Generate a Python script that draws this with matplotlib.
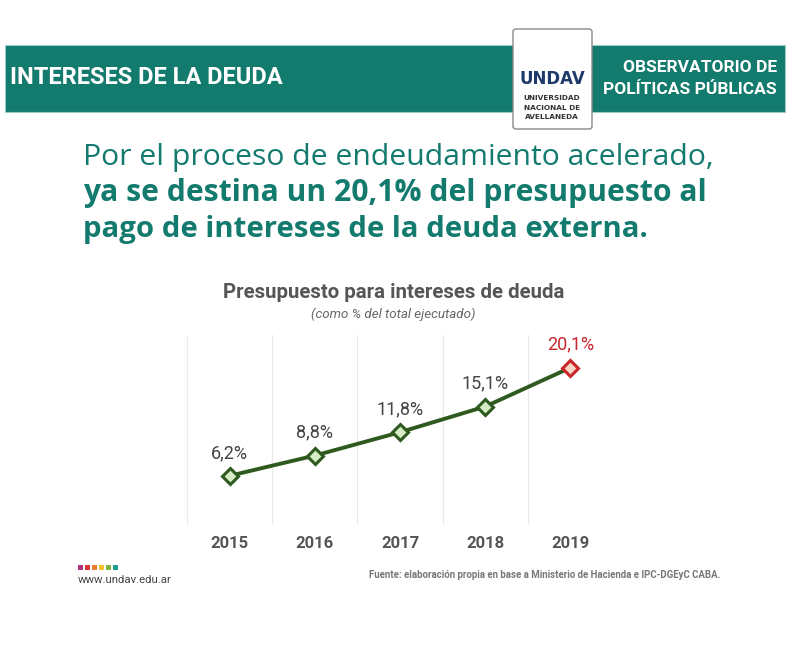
import matplotlib.pyplot as plt
from matplotlib.patches import Rectangle, FancyBboxPatch

# data
years = ['2015', '2016', '2017', '2018', '2019']
shares = [6.2, 8.8, 11.8, 15.1, 20.1]
labels = ['6,2%', '8,8%', '11,8%', '15,1%', '20,1%']

TEAL = '#137a6e'
GREEN = '#2f5a1f'
RED = '#c9262c'
GREY = '#555555'
W, H = 790, 645

fig = plt.figure(figsize=(7.9, 6.45), dpi=100)
fig.patch.set_facecolor('white')

def fx(x):
    return x / W

def fy(y):
    return 1 - y / H

# banner
fig.patches.append(Rectangle((fx(5), fy(112)), fx(780), 67 / H, transform=fig.transFigure,
                             facecolor=TEAL, edgecolor='#9fc9c3', lw=0.8, zorder=0))
fig.text(fx(10), fy(78), 'INTERESES DE LA DEUDA', family='Roboto', weight='bold',
         fontsize=17, color='white', va='center', ha='left')
fig.text(fx(777), fy(68), 'OBSERVATORIO DE', family='Roboto', weight='bold',
         fontsize=12.5, color='white', va='center', ha='right')
fig.text(fx(777), fy(90), 'POLÍTICAS PÚBLICAS', family='Roboto', weight='bold',
         fontsize=12.5, color='white', va='center', ha='right')

# logo box
fig.patches.append(FancyBboxPatch((fx(513), fy(129)), fx(79), 100 / H, transform=fig.transFigure,
                                  boxstyle='round,pad=0,rounding_size=0.004',
                                  facecolor='white', edgecolor='#8a8a8a', lw=1.0, zorder=1))
fig.text(fx(552), fy(79), 'UNDAV', family='DejaVu Sans', weight='bold', fontsize=12,
         color='#1d3a6b', ha='center', va='center', zorder=2)
for i, t in enumerate(['UNIVERSIDAD', 'NACIONAL DE', 'AVELLANEDA']):
    fig.text(fx(552), fy(98 + i * 9.5), t, family='DejaVu Sans', weight='bold', fontsize=5.3,
             color='#333333', ha='center', va='center', zorder=2)

# headline
fig.text(fx(83), fy(158), 'Por el proceso de endeudamiento acelerado,', family='Open Sans',
         fontsize=21.7, color=TEAL, ha='left', va='center')
fig.text(fx(83), fy(193), 'ya se destina un 20,1% del presupuesto al', family='Open Sans',
         weight='bold', fontsize=21.7, color=TEAL, ha='left', va='center')
fig.text(fx(83), fy(229), 'pago de intereses de la deuda externa.', family='Open Sans',
         weight='bold', fontsize=21.2, color=TEAL, ha='left', va='center')

# chart titles
fig.text(fx(394), fy(293), 'Presupuesto para intereses de deuda', family='Roboto',
         weight='bold', fontsize=14.7, color=GREY, ha='center', va='center')
fig.text(fx(393), fy(314), '(como % del total ejecutado)', family='Roboto',
         style='italic', fontsize=9.6, color='#666666', ha='center', va='center')

ax = fig.add_axes([fx(187), fy(524), fx(426), 189 / H])
x = list(range(len(years)))
ax.plot(x, shares, color=GREEN, lw=2.8, zorder=2)
ax.plot(x[:-1], shares[:-1], 'D', ms=8, mfc='#d6ecc4', mec=GREEN, mew=2.2, ls='none', zorder=3)
ax.plot(x[-1:], shares[-1:], 'D', ms=8, mfc='#f7d6c6', mec=RED, mew=2.2, ls='none', zorder=3)
for i, (v, t) in enumerate(zip(shares, labels)):
    c = RED if i == len(shares) - 1 else '#444444'
    ax.annotate(t, (i, v), xytext=(0, 10), textcoords='offset points', ha='center',
                va='bottom', family='Roboto', fontsize=13, color=c)

ax.set_xlim(-0.5, 4.5)
ax.set_ylim(0, 24.3)
for g in [-0.5, 0.5, 1.5, 2.5, 3.5, 4.5]:
    ax.axvline(g, color='#e8e8e8', lw=0.9, zorder=0)
for s in ax.spines.values():
    s.set_visible(False)
ax.set_yticks([])
ax.set_xticks(x)
ax.set_xticklabels(years, family='Roboto', weight='bold', fontsize=12, color=GREY)
ax.tick_params(axis='x', length=0, pad=9)

# footer
sq_colors = ['#b5317c', '#d8343a', '#ee7b2f', '#f2c22e', '#7cb342', '#1f9e8f']
for i, c in enumerate(sq_colors):
    fig.patches.append(Rectangle((fx(78 + i * 7), fy(570)), fx(5), 5 / H,
                                 transform=fig.transFigure, facecolor=c, edgecolor='none'))
fig.text(fx(78), fy(580), 'www.undav.edu.ar', family='Roboto', fontsize=8.2,
         color='#444444', ha='left', va='center')
fig.text(fx(720), fy(575), 'Fuente: elaboración propia en base a Ministerio de Hacienda e IPC-DGEyC CABA.',
         family='Roboto', weight='bold', fontsize=6.9, color='#777777', ha='right', va='center')

fig.savefig('out.png', dpi=100)
